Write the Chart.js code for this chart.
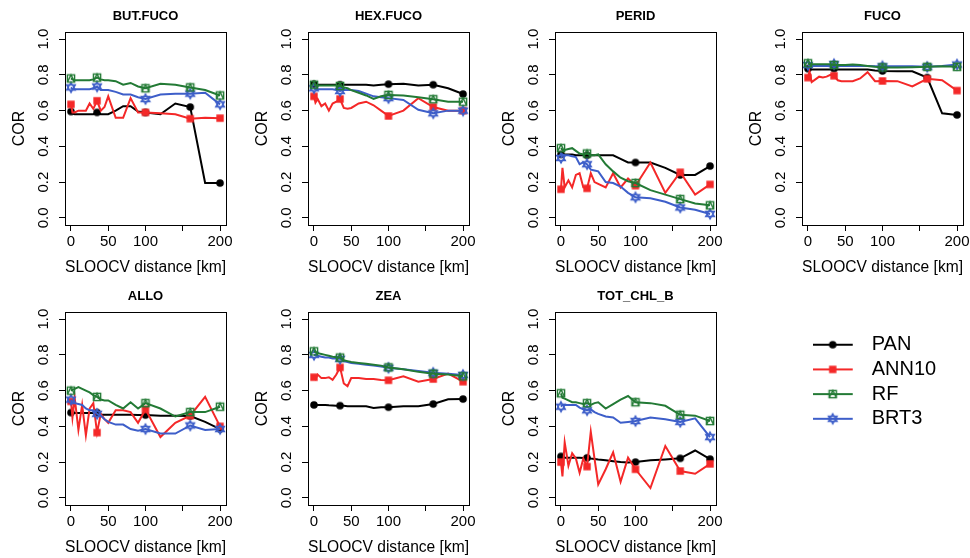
<!DOCTYPE html>
<html><head><meta charset="utf-8">
<script src="https://cdn.jsdelivr.net/npm/chart.js@4.4.0/dist/chart.umd.min.js"></script>
<style>
html,body{margin:0;padding:0;background:#fff;overflow:hidden;width:970px;height:558px;position:relative;}
canvas{position:absolute;}
</style></head><body>
<script>
// ---------- data ----------
const distances = [0,2,5,10,15,20,25,30,35,40,45,50,60,70,80,90,100,120,140,160,180,200];
const markerDistances = [0,35,100,160,200];
const xTicks = [0,50,100,150,200];
const xTickLabels = ['0','50','100','','200'];
const yTicks = [0,0.2,0.4,0.6,0.8,1.0];
const pigments = ['BUT.FUCO','HEX.FUCO','PERID','FUCO','ALLO','ZEA','TOT_CHL_B'];
const models = ['PAN','ANN10','RF','BRT3'];

const BUT_FUCO_PAN   = [0.595,0.585,0.58,0.58,0.58,0.58,0.58,0.58,0.59,0.58,0.58,0.58,0.60,0.625,0.625,0.595,0.59,0.58,0.64,0.62,0.195,0.195];
const BUT_FUCO_ANN10 = [0.635,0.59,0.59,0.60,0.60,0.60,0.64,0.61,0.655,0.60,0.62,0.68,0.56,0.56,0.67,0.59,0.59,0.585,0.58,0.555,0.56,0.558];
const BUT_FUCO_RF    = [0.78,0.775,0.77,0.77,0.77,0.77,0.77,0.775,0.785,0.775,0.77,0.77,0.765,0.745,0.755,0.735,0.725,0.75,0.745,0.73,0.715,0.685];
const BUT_FUCO_BRT3  = [0.73,0.72,0.72,0.72,0.72,0.72,0.72,0.725,0.735,0.715,0.715,0.715,0.705,0.69,0.69,0.675,0.665,0.69,0.695,0.695,0.70,0.635];

const HEX_FUCO_PAN   = [0.748,0.745,0.745,0.745,0.745,0.745,0.745,0.745,0.745,0.745,0.745,0.745,0.745,0.745,0.74,0.745,0.748,0.75,0.74,0.745,0.725,0.693];
const HEX_FUCO_ANN10 = [0.68,0.645,0.665,0.625,0.64,0.60,0.64,0.65,0.665,0.615,0.61,0.615,0.64,0.65,0.63,0.60,0.57,0.60,0.67,0.62,0.60,0.60];
const HEX_FUCO_RF    = [0.745,0.74,0.74,0.74,0.74,0.74,0.74,0.74,0.738,0.73,0.725,0.715,0.70,0.685,0.665,0.68,0.688,0.685,0.675,0.664,0.65,0.65];
const HEX_FUCO_BRT3  = [0.725,0.72,0.72,0.72,0.72,0.72,0.72,0.715,0.71,0.715,0.715,0.715,0.71,0.695,0.68,0.675,0.67,0.66,0.605,0.585,0.60,0.60];

const PERID_PAN   = [0.355,0.355,0.355,0.355,0.355,0.35,0.35,0.35,0.35,0.35,0.35,0.35,0.35,0.35,0.33,0.31,0.31,0.31,0.28,0.24,0.24,0.29];
const PERID_ANN10 = [0.16,0.28,0.17,0.21,0.17,0.24,0.25,0.17,0.165,0.25,0.20,0.19,0.17,0.25,0.17,0.22,0.18,0.31,0.14,0.255,0.13,0.187];
const PERID_RF    = [0.39,0.38,0.38,0.385,0.39,0.375,0.36,0.355,0.36,0.35,0.35,0.355,0.30,0.26,0.225,0.205,0.195,0.155,0.13,0.105,0.08,0.07];
const PERID_BRT3  = [0.335,0.355,0.35,0.35,0.345,0.34,0.30,0.31,0.30,0.27,0.265,0.26,0.20,0.195,0.175,0.14,0.115,0.11,0.09,0.058,0.045,0.022];

const FUCO_PAN   = [0.835,0.83,0.83,0.83,0.83,0.83,0.83,0.83,0.835,0.83,0.83,0.83,0.83,0.83,0.83,0.825,0.822,0.82,0.82,0.785,0.585,0.576];
const FUCO_ANN10 = [0.785,0.82,0.76,0.775,0.79,0.785,0.79,0.80,0.795,0.77,0.765,0.765,0.765,0.78,0.815,0.765,0.766,0.765,0.735,0.778,0.77,0.712];
const FUCO_RF    = [0.865,0.86,0.86,0.86,0.86,0.86,0.86,0.86,0.855,0.855,0.855,0.855,0.858,0.855,0.85,0.845,0.842,0.842,0.843,0.845,0.848,0.845];
const FUCO_BRT3  = [0.855,0.85,0.85,0.85,0.85,0.85,0.85,0.85,0.86,0.85,0.85,0.85,0.85,0.85,0.85,0.848,0.848,0.848,0.848,0.845,0.85,0.858];

const ALLO_PAN   = [0.477,0.475,0.475,0.475,0.475,0.475,0.475,0.475,0.477,0.465,0.465,0.465,0.465,0.465,0.465,0.463,0.463,0.46,0.46,0.458,0.425,0.385];
const ALLO_ANN10 = [0.54,0.45,0.56,0.38,0.52,0.35,0.50,0.53,0.365,0.47,0.44,0.42,0.49,0.49,0.48,0.42,0.495,0.34,0.42,0.46,0.565,0.40];
const ALLO_RF    = [0.60,0.605,0.61,0.62,0.61,0.60,0.59,0.575,0.565,0.55,0.545,0.545,0.52,0.50,0.535,0.50,0.53,0.50,0.455,0.48,0.48,0.51];
const ALLO_BRT3  = [0.55,0.53,0.53,0.525,0.52,0.50,0.49,0.49,0.47,0.46,0.44,0.425,0.41,0.41,0.385,0.375,0.385,0.36,0.36,0.405,0.38,0.385];

const ZEA_PAN   = [0.52,0.52,0.52,0.52,0.52,0.518,0.517,0.516,0.516,0.515,0.513,0.513,0.512,0.512,0.503,0.507,0.507,0.512,0.512,0.525,0.552,0.553];
const ZEA_ANN10 = [0.675,0.665,0.69,0.67,0.67,0.675,0.66,0.69,0.73,0.64,0.625,0.67,0.67,0.665,0.665,0.66,0.658,0.68,0.65,0.665,0.695,0.65];
const ZEA_RF    = [0.82,0.815,0.81,0.805,0.80,0.795,0.79,0.787,0.785,0.77,0.765,0.76,0.755,0.75,0.745,0.74,0.73,0.72,0.705,0.695,0.69,0.68];
const ZEA_BRT3  = [0.80,0.80,0.795,0.79,0.785,0.785,0.78,0.78,0.778,0.765,0.76,0.755,0.75,0.745,0.74,0.735,0.728,0.72,0.71,0.70,0.695,0.688];

const TOT_CHL_B_PAN   = [0.232,0.225,0.225,0.225,0.225,0.225,0.225,0.223,0.224,0.22,0.218,0.215,0.21,0.205,0.20,0.198,0.20,0.21,0.215,0.221,0.265,0.217];
const TOT_CHL_B_ANN10 = [0.20,0.12,0.31,0.18,0.25,0.22,0.14,0.22,0.175,0.37,0.22,0.075,0.16,0.255,0.09,0.225,0.16,0.055,0.29,0.15,0.135,0.19];
const TOT_CHL_B_RF    = [0.585,0.56,0.555,0.545,0.535,0.535,0.53,0.525,0.53,0.52,0.53,0.535,0.50,0.525,0.55,0.57,0.535,0.53,0.515,0.465,0.46,0.43];
const TOT_CHL_B_BRT3  = [0.51,0.52,0.52,0.52,0.52,0.52,0.505,0.495,0.49,0.495,0.48,0.47,0.455,0.45,0.42,0.425,0.43,0.45,0.44,0.425,0.445,0.34];

const panelSeries = [
  [BUT_FUCO_PAN, BUT_FUCO_ANN10, BUT_FUCO_RF, BUT_FUCO_BRT3],
  [HEX_FUCO_PAN, HEX_FUCO_ANN10, HEX_FUCO_RF, HEX_FUCO_BRT3],
  [PERID_PAN, PERID_ANN10, PERID_RF, PERID_BRT3],
  [FUCO_PAN, FUCO_ANN10, FUCO_RF, FUCO_BRT3],
  [ALLO_PAN, ALLO_ANN10, ALLO_RF, ALLO_BRT3],
  [ZEA_PAN, ZEA_ANN10, ZEA_RF, ZEA_BRT3],
  [TOT_CHL_B_PAN, TOT_CHL_B_ANN10, TOT_CHL_B_RF, TOT_CHL_B_BRT3]
];

// ---------- styling / layout ----------
const FONT = "'Liberation Sans', Arial, Helvetica, sans-serif";
Chart.defaults.font.family = FONT;
const colors = ['#000000', '#f42828', '#237a35', '#3d5ec9'];
const drawOrder = [4, 3, 1, 2];
const boxLefts = [65, 308, 555, 802, 65, 308, 555];
const rowTops = [0, 0, 0, 0, 280, 280, 280];

function drawMarker(ctx, k, cx, cy) {
  ctx.save();
  ctx.lineWidth = 1.4;
  if (k === 0) {
    ctx.fillStyle = colors[0];
    ctx.beginPath(); ctx.arc(cx, cy, 3.8, 0, Math.PI * 2); ctx.fill();
  } else if (k === 1) {
    ctx.fillStyle = colors[1];
    ctx.fillRect(cx - 3.7, cy - 3.7, 7.4, 7.4);
  } else if (k === 2) {
    ctx.strokeStyle = colors[2];
    const s = 3.6;
    ctx.strokeRect(cx - s, cy - s, 2 * s, 2 * s);
    ctx.beginPath();
    ctx.moveTo(cx - s, cy + s); ctx.lineTo(cx, cy - s); ctx.lineTo(cx + s, cy + s);
    ctx.stroke();
  } else {
    ctx.strokeStyle = colors[3];
    const r = 5;
    ctx.beginPath();
    for (let t = 0; t < 3; t++) {
      const a = -Math.PI / 2 + t * 2 * Math.PI / 3;
      const px = cx + r * Math.cos(a), py = cy + r * Math.sin(a);
      t ? ctx.lineTo(px, py) : ctx.moveTo(px, py);
    }
    ctx.closePath();
    for (let t = 0; t < 3; t++) {
      const a = Math.PI / 2 + t * 2 * Math.PI / 3;
      const px = cx + r * Math.cos(a), py = cy + r * Math.sin(a);
      t ? ctx.lineTo(px, py) : ctx.moveTo(px, py);
    }
    ctx.closePath();
    ctx.stroke();
  }
  ctx.restore();
}
function makeCanvas(w, h) { const c = document.createElement('canvas'); c.width = w; c.height = h; return c; }
const markerImgs = models.map((m, k) => { const c = makeCanvas(14, 14); drawMarker(c.getContext('2d'), k, 7, 7); return c; });
const legendIcons = models.map((m, k) => {
  const c = makeCanvas(49, 14); const g = c.getContext('2d');
  g.strokeStyle = colors[k]; g.lineWidth = 2;
  g.beginPath(); g.moveTo(0, 7); g.lineTo(40, 7); g.stroke();
  drawMarker(g, k, 20, 7);
  return c;
});

const boxPlugin = {
  id: 'rbox',
  afterDraw(chart) {
    const { ctx, chartArea: a } = chart;
    ctx.save();
    ctx.strokeStyle = '#000'; ctx.lineWidth = 1;
    ctx.strokeRect(Math.round(a.left) + 0.5, Math.round(a.top) + 0.5, Math.round(a.right - a.left), Math.round(a.bottom - a.top));
    ctx.restore();
  }
};

pigments.forEach((name, p) => {
  const cv = makeCanvas(241, 278);
  cv.style.left = (boxLefts[p] - 65) + 'px';
  cv.style.top = rowTops[p] + 'px';
  document.body.appendChild(cv);
  new Chart(cv, {
    type: 'line',
    data: {
      datasets: models.map((m, k) => ({
        label: m,
        data: distances.map((d, i) => ({ x: d, y: panelSeries[p][k][i] })),
        borderColor: colors[k],
        backgroundColor: colors[k],
        borderWidth: 2,
        tension: 0,
        pointStyle: markerImgs[k],
        pointRadius: (c) => (c.raw && markerDistances.includes(c.raw.x)) ? 4 : 0,
        pointHoverRadius: 0,
        order: drawOrder[k]
      }))
    },
    options: {
      responsive: false, animation: false, events: [],
      layout: { padding: { left: 0, right: 15, top: 0, bottom: 0 } },
      plugins: {
        legend: { display: false }, tooltip: { enabled: false },
        title: { display: true, text: name, fullSize: false, color: '#000',
                 font: { size: 13, weight: 'bold' }, padding: { top: 9, bottom: 7.4 } }
      },
      scales: {
        x: {
          type: 'linear', min: -8, max: 208, bounds: 'data',
          afterBuildTicks: (s) => { s.ticks = xTicks.map(v => ({ value: v })); },
          afterFit: (s) => { s.height = 53; },
          ticks: { autoSkip: false, maxRotation: 0, minRotation: 0, padding: 2, color: '#000',
                   font: { size: 15 }, callback: (v) => xTickLabels[xTicks.indexOf(v)] },
          grid: { display: true, drawOnChartArea: false, drawTicks: true, tickLength: 6, color: '#000', lineWidth: 1 },
          border: { display: false },
          title: { display: true, text: 'SLOOCV distance [km]', color: '#000', font: { size: 16 }, padding: { top: 0, bottom: 0.5 } }
        },
        y: {
          type: 'linear', min: -0.04, max: 1.04, bounds: 'data',
          afterBuildTicks: (s) => { s.ticks = yTicks.map(v => ({ value: v })); },
          afterFit: (s) => { s.width = 65; },
          ticks: { autoSkip: false, minRotation: 90, maxRotation: 90, crossAlign: 'center', padding: 4.6,
                   color: '#000', font: { size: 15 }, callback: (v) => Number(v).toFixed(1) },
          grid: { display: true, drawOnChartArea: false, drawTicks: true, tickLength: 6, color: '#000', lineWidth: 1 },
          border: { display: false },
          title: { display: true, text: 'COR', color: '#000', font: { size: 16 }, padding: { top: 10.4, bottom: 0 } }
        }
      }
    },
    plugins: [boxPlugin]
  });
});

// legend
const lc = makeCanvas(160, 115);
lc.style.left = '808px'; lc.style.top = '330px';
document.body.appendChild(lc);
new Chart(lc, {
  type: 'line',
  data: { datasets: models.map((m, k) => ({ label: m, data: [], borderColor: colors[k] })) },
  options: {
    responsive: false, animation: false, events: [],
    layout: { padding: 0 },
    scales: { x: { display: false }, y: { display: false } },
    plugins: {
      tooltip: { enabled: false },
      legend: {
        display: true, position: 'left', align: 'start', maxWidth: 160,
        labels: {
          usePointStyle: true, pointStyleWidth: 49, padding: 4.7, color: '#000', font: { size: 20 },
          generateLabels: () => models.map((m, k) => ({
            text: m, pointStyle: legendIcons[k], fillStyle: colors[k], strokeStyle: colors[k],
            lineWidth: 0, hidden: false, datasetIndex: k, fontColor: '#000'
          }))
        }
      }
    }
  }
});
</script>
</body></html>
